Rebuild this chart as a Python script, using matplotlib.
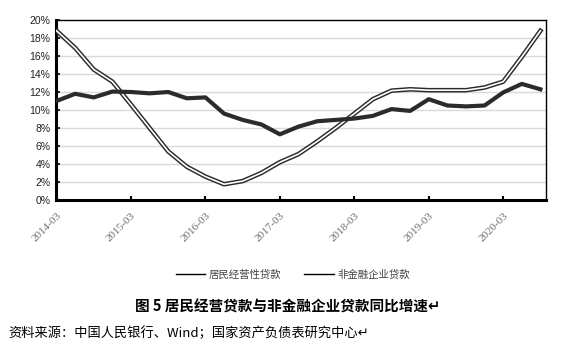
import matplotlib
matplotlib.use("Agg")
import matplotlib.pyplot as plt
from matplotlib.lines import Line2D

plt.rcParams['font.family'] = ['Noto Sans CJK SC', 'DejaVu Sans']

quarters = ["2014-03", "2014-06", "2014-09", "2014-12",
            "2015-03", "2015-06", "2015-09", "2015-12",
            "2016-03", "2016-06", "2016-09", "2016-12",
            "2017-03", "2017-06", "2017-09", "2017-12",
            "2018-03", "2018-06", "2018-09", "2018-12",
            "2019-03", "2019-06", "2019-09", "2019-12",
            "2020-03", "2020-06", "2020-09"]
tick_labels = ["2014-03", "2015-03", "2016-03", "2017-03", "2018-03", "2019-03", "2020-03"]

resident_business = [18.8, 16.9, 14.5, 13.15, 10.6, 8.0, 5.4, 3.7, 2.6, 1.75, 2.1,
                     3.0, 4.2, 5.1, 6.5, 8.0, 9.6, 11.2, 12.15, 12.3, 12.2, 12.2,
                     12.2, 12.5, 13.15, 15.9, 18.8]
nonfin_enterprise = [11.0, 11.8, 11.4, 12.05, 12.0, 11.85, 12.0, 11.3, 11.4, 9.6, 8.9,
                     8.4, 7.3, 8.15, 8.75, 8.9, 9.05, 9.35, 10.1, 9.9, 11.2, 10.5,
                     10.4, 10.5, 11.95, 12.9, 12.3]

W, H = 565, 361
fig = plt.figure(figsize=(W / 100, H / 100), dpi=100)
ax = fig.add_axes([56 / W, 1 - 200 / H, 490 / W, 180 / H])

x = list(range(len(quarters)))
# double-line series
ax.plot(x, resident_business, color="#2b2b2b", lw=3.3, zorder=3)
ax.plot(x, resident_business, color="white", lw=1.2, zorder=4)
# thick series
ax.plot(x, nonfin_enterprise, color="#2b2b2b", lw=3.0, zorder=5)

ax.set_ylim(0, 20)
ax.set_yticks(range(0, 21, 2))
ax.set_yticklabels([f"{v}%" for v in range(0, 21, 2)], fontsize=7.5,
                   family=["Liberation Sans", "DejaVu Sans"], color="#222222")
for v in range(2, 20, 2):
    ax.axhline(v, color="#d9d9d9", lw=1.0, zorder=1)

ax.set_xlim(-0.03, 26.3)
tick_pos = [quarters.index(t) for t in tick_labels]
ax.set_xticks(tick_pos)
ax.set_xticklabels(tick_labels, rotation=45, ha="right", rotation_mode="anchor",
                   fontsize=8, color="#6e6e6e", family=["Liberation Serif", "DejaVu Serif"])
ax.tick_params(axis="x", direction="in", length=3, width=1.5, pad=8, color="black")
ax.tick_params(axis="y", direction="in", length=3, width=1.2, pad=4, color="black")

for s in ["top", "right"]:
    ax.spines[s].set_linewidth(1.0)
    ax.spines[s].set_color("black")
for s in ["left", "bottom"]:
    ax.spines[s].set_linewidth(2.2)
    ax.spines[s].set_color("black")

handles = [Line2D([], [], color="black", lw=1.0),
           Line2D([], [], color="black", lw=1.0)]
fig.legend(handles, ["居民经营性贷款", "非金融企业贷款"], loc="center",
           bbox_to_anchor=(293 / W, 1 - 275 / H), ncol=2, frameon=False,
           fontsize=7.5, handlelength=2.8, handletextpad=0.4, columnspacing=2.2,
           labelcolor="#444444")

fig.text(288 / W, 1 - 307 / H, "图 5 居民经营贷款与非金融企业贷款同比增速↵",
         ha="center", va="center", fontsize=10.5, fontweight="bold")
fig.text(8 / W, 1 - 333 / H, "资料来源：中国人民银行、Wind；国家资产负债表研究中心↵",
         ha="left", va="center", fontsize=9.5)

fig.savefig("out.png", dpi=100)
